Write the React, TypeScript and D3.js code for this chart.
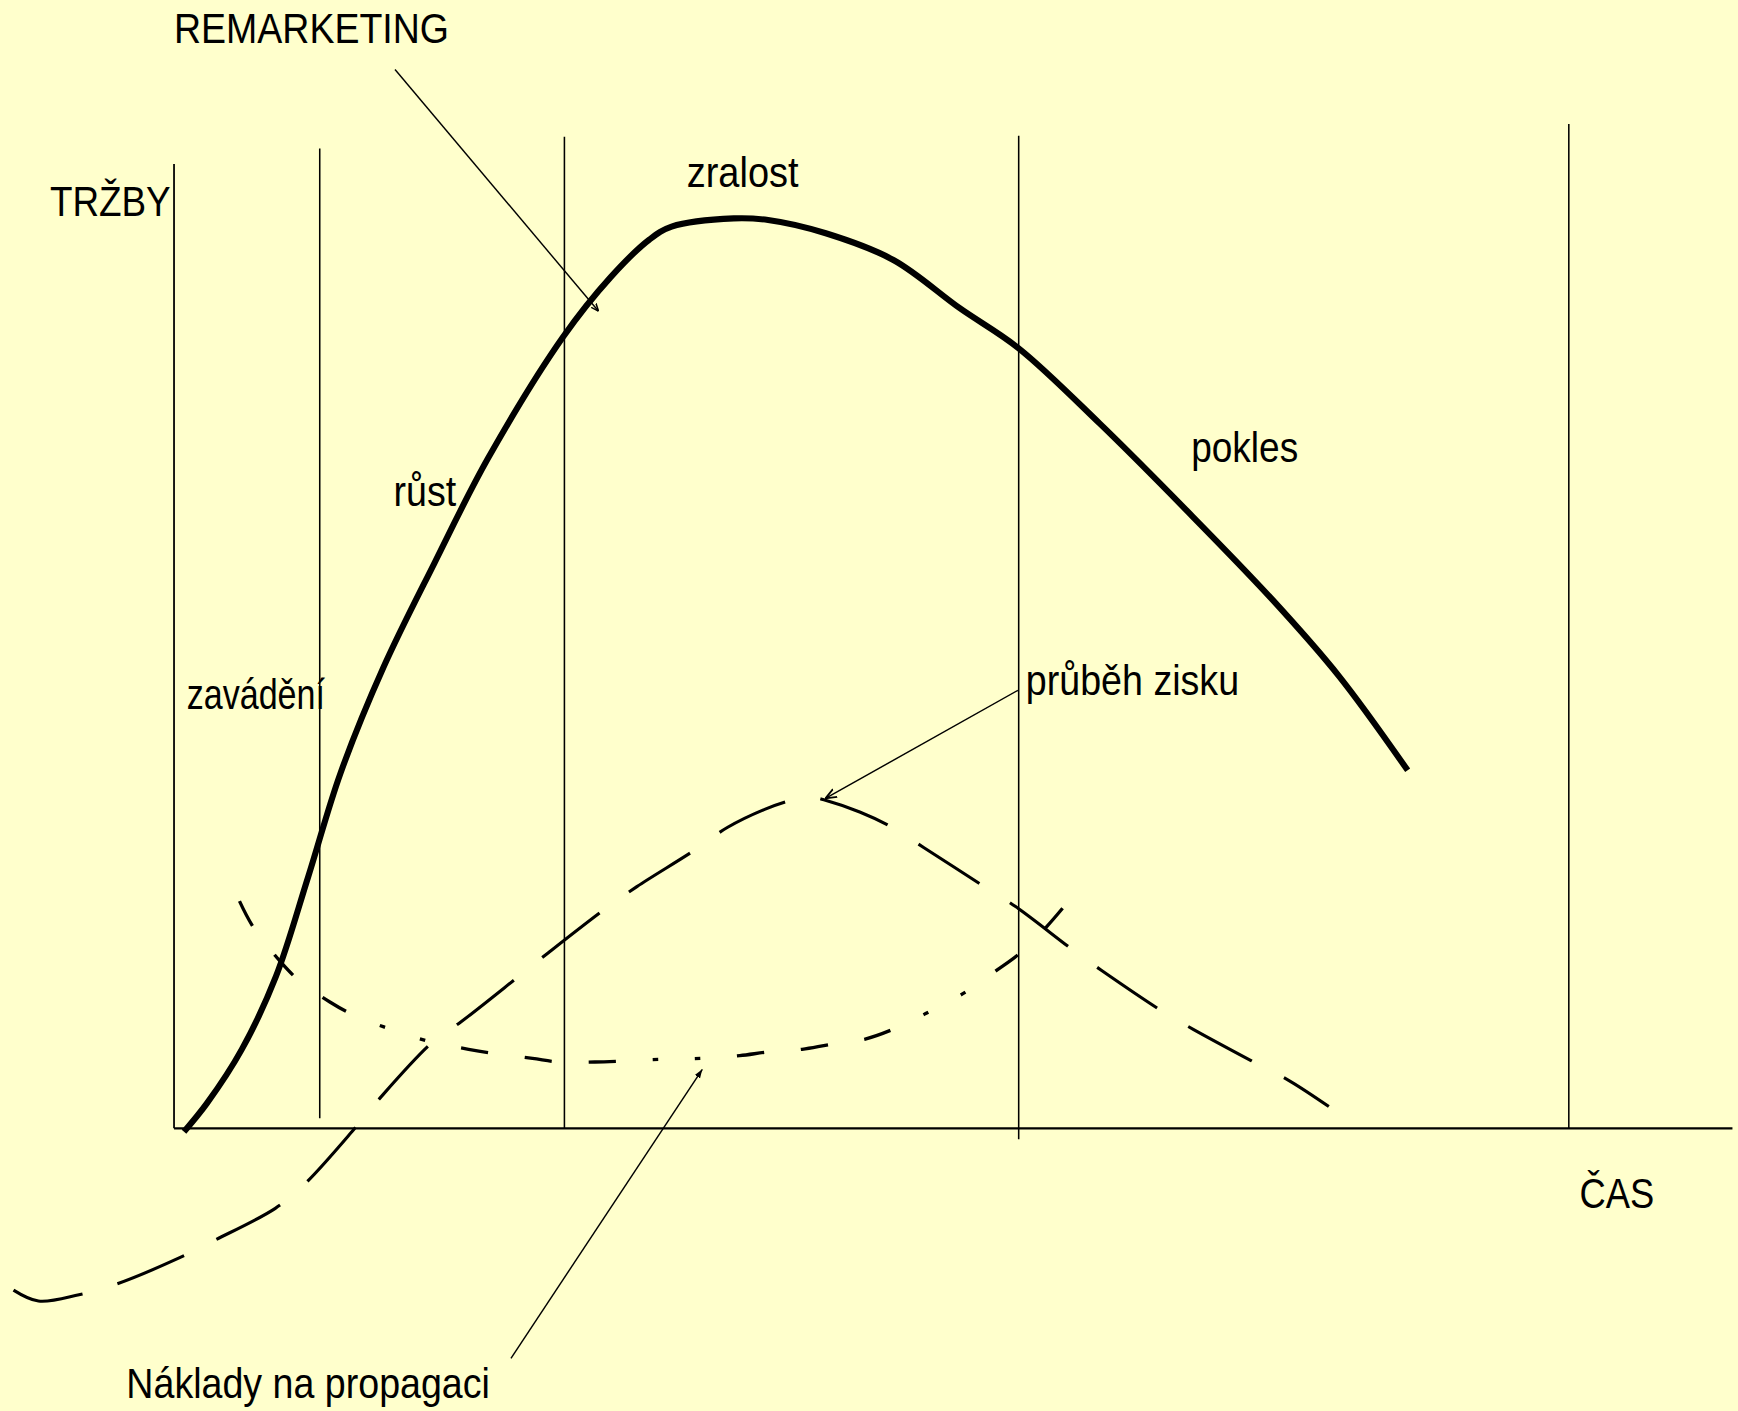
import React from "react";
import * as d3 from "d3";

// Product life cycle: sales, profit and promotion cost over time.
// Time runs 0..100 along the horizontal axis, values 0..100 up the vertical one.

const salesCurve: [number, number][] = [
  [0.64, -0.37], [2.13, 2.8], [4.34, 8.66], [6.54, 16.71], [8.61, 27.68], [10.67, 39.02],
  [13.44, 50.73], [16.71, 62.2], [20.13, 73.66], [24.96, 87.07], [28.02, 93.66],
  [30.51, 97.8], [31.93, 99.21], [35.92, 100.12], [38.12, 99.94], [41.82, 98.48],
  [46.16, 95.54], [50.43, 90.22], [54.2, 85.82], [59.39, 77.56], [64.94, 68.05],
  [70.48, 58.17], [74.75, 49.76], [79.16, 39.39],
];

const profitCurve: [number, number][] = [
  [-10.3, -17.8], [-8.7, -19.0], [-6.1, -18.3], [-3.8, -17.2], [0.4, -14.2], [2.5, -12.4],
  [6.5, -8.8], [8.4, -6.1], [11.6, 0], [13.2, 3.3], [16.6, 9.5], [18.4, 11.7],
  [22.1, 16.7], [24.0, 19.3], [27.7, 24.2], [29.7, 26.6], [33.4, 30.6], [35.5, 33.1],
  [37.9, 35.1], [39.6, 36.1], [40.7, 36.5], [41.8, 36.1], [44.0, 34.8], [46.1, 33.1],
  [48.1, 30.9], [51.9, 26.7], [54.0, 24.4], [57.7, 19.6], [59.5, 17.4], [63.4, 12.9],
  [65.4, 10.9], [69.5, 7.1], [71.6, 5.2], [74.1, 2.4],
];

const costCurve: [number, number][] = [
  [4.2, 25.0], [5.1, 22.1], [6.9, 18.2], [8.0, 16.3], [10.0, 13.9], [11.6, 12.4],
  [13.9, 10.9], [16.5, 9.5], [18.9, 8.7], [20.7, 8.2], [23.0, 7.7], [24.7, 7.3],
  [27.0, 7.3], [28.7, 7.4], [31.2, 7.6], [33.8, 7.7], [36.3, 8.0], [38.1, 8.4],
  [40.3, 8.7], [42.0, 9.2], [44.3, 9.8], [46.0, 10.8], [48.2, 12.6], [50.7, 14.9],
  [52.8, 17.4], [54.3, 19.3], [56.0, 22.2], [57.3, 24.8],
];

// Boundaries between the life-cycle stages (time)
const phaseBoundaries = [9.35, 25.05, 54.2, 89.5];
const stageNames = ["zavádění", "růst", "zralost", "pokles"];
const axisTitles = ["TRŽBY", "ČAS"];
const calloutTexts = ["REMARKETING", "průběh zisku", "Náklady na propagaci"];

const BG = "#FFFFCC";
const INK = "#000000";
const FONT = "'Liberation Sans', Arial, Helvetica, sans-serif";

export default function App() {
  const VW = 1568;
  const VH = 1273;

  const x = d3.scaleLinear().domain([0, 100]).range([157, 1563]);
  const y = d3.scaleLinear().domain([0, 100]).range([1018, 198]);

  const curve = d3
    .line<[number, number]>()
    .x((d) => x(d[0]))
    .y((d) => y(d[1]))
    .curve(d3.curveCatmullRom.alpha(0.5));

  // vertical extent (value units) of each stage boundary line
  const boundarySpan: [number, number][] = [
    [1.1, 107.8],
    [0, 109.1],
    [-1.2, 109.2],
    [0, 110.5],
  ];

  // callout pointers: [from, to] in data units
  const pointers: { from: [number, number]; to: [number, number]; marker: string }[] = [
    { from: [14.18, 116.5], to: [27.24, 89.9], marker: "url(#arrowSmall)" },
    { from: [54.15, 48.2], to: [41.8, 36.3], marker: "url(#arrowOpen)" },
    { from: [21.62, -25.3], to: [33.9, 6.5], marker: "url(#arrowFilled)" },
  ];

  const textStyle = { fontFamily: FONT, fontSize: 39, fill: INK } as const;

  const labels: { text: string; x: number; y: number; w: number }[] = [
    { text: calloutTexts[0], x: 157, y: 39, w: 248 },
    { text: axisTitles[0], x: 45, y: 195, w: 109 },
    { text: stageNames[2], x: 619.6, y: 169, w: 100.8 },
    { text: stageNames[1], x: 355, y: 456.5, w: 56.5 },
    { text: stageNames[0], x: 168.4, y: 640, w: 124.8 },
    { text: stageNames[3], x: 1074.7, y: 416.5, w: 96.5 },
    { text: calloutTexts[1], x: 925.5, y: 627, w: 192.4 },
    { text: axisTitles[1], x: 1425, y: 1090, w: 67.4 },
    { text: calloutTexts[2], x: 114, y: 1261.6, w: 328 },
  ];

  return (
    <svg
      width={1738}
      height={1411}
      viewBox={`0 0 ${VW} ${VH}`}
      style={{ position: "absolute", left: 0, top: 0, display: "block" }}
    >
      <defs>
        <marker
          id="arrowSmall"
          viewBox="0 0 10 10"
          refX="10"
          refY="5"
          markerWidth="7"
          markerHeight="7"
          markerUnits="userSpaceOnUse"
          orient="auto"
        >
          <path d="M0,1 L10,5 L0,9" fill="none" stroke={INK} strokeWidth="2" />
        </marker>
        <marker
          id="arrowOpen"
          viewBox="0 0 10 10"
          refX="10"
          refY="5"
          markerWidth="10"
          markerHeight="10"
          markerUnits="userSpaceOnUse"
          orient="auto"
        >
          <path d="M0,1 L10,5 L0,9" fill="none" stroke={INK} strokeWidth="1.6" />
        </marker>
        <marker
          id="arrowFilled"
          viewBox="0 0 10 10"
          refX="10"
          refY="5"
          markerWidth="8"
          markerHeight="8"
          markerUnits="userSpaceOnUse"
          orient="auto"
        >
          <path d="M0,1.5 L10,5 L0,8.5 Z" fill={INK} />
        </marker>
      </defs>

      <rect x={0} y={0} width={VW} height={VH} fill={BG} />

      {/* axes */}
      <line x1={x(0)} x2={x(0)} y1={y(0)} y2={y(106.1)} stroke={INK} strokeWidth={1.6} />
      <line x1={x(0)} x2={x(100)} y1={y(0)} y2={y(0)} stroke={INK} strokeWidth={2} />

      {/* stage boundaries */}
      {phaseBoundaries.map((t, i) => (
        <line
          key={i}
          x1={x(t)}
          x2={x(t)}
          y1={y(boundarySpan[i][0])}
          y2={y(boundarySpan[i][1])}
          stroke={INK}
          strokeWidth={1.4}
        />
      ))}

      {/* promotion cost: dash-dash-dash-dot-dot */}
      <path
        d={curve(costCurve) || ""}
        fill="none"
        stroke={INK}
        strokeWidth={3}
        strokeDasharray="25 33 25 33 25 33 5 33 5 33"
      />

      {/* profit: long dashes */}
      <path
        d={curve(profitCurve) || ""}
        fill="none"
        stroke={INK}
        strokeWidth={2.8}
        strokeDasharray="65 33"
      />

      {/* sales */}
      <path
        d={curve(salesCurve) || ""}
        fill="none"
        stroke={INK}
        strokeWidth={5.5}
        strokeLinejoin="round"
      />

      {/* callout pointers */}
      {pointers.map((p, i) => (
        <line
          key={i}
          x1={x(p.from[0])}
          y1={y(p.from[1])}
          x2={x(p.to[0])}
          y2={y(p.to[1])}
          stroke={INK}
          strokeWidth={1.3}
          markerEnd={p.marker}
        />
      ))}

      {labels.map((l, i) => (
        <text
          key={i}
          x={l.x}
          y={l.y}
          textLength={l.w}
          lengthAdjust="spacingAndGlyphs"
          style={textStyle}
        >
          {l.text}
        </text>
      ))}
    </svg>
  );
}
